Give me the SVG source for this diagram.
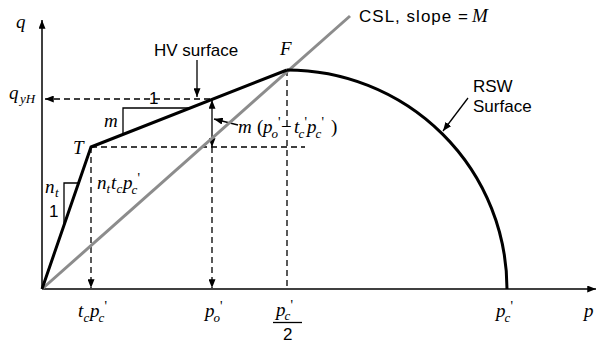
<svg xmlns="http://www.w3.org/2000/svg" width="598" height="344" viewBox="0 0 598 344">
<defs>
<marker id="ah" viewBox="0 0 10 8" refX="10" refY="4" markerWidth="9" markerHeight="7" orient="auto-start-reverse" markerUnits="userSpaceOnUse"><path d="M0,0 L10,4 L0,8 z" fill="#000"/></marker>
<style>
.ax{stroke:#000;stroke-width:1.5;fill:none}
.thick{stroke:#000;stroke-width:3;fill:none;stroke-linejoin:round}
.csl{stroke:#8c8c8c;stroke-width:3;fill:none}
.dash{stroke:#000;stroke-width:1.3;stroke-dasharray:6,4;fill:none}
.thin{stroke:#000;stroke-width:1.3;fill:none}
.m{font-family:"Liberation Serif","Times New Roman",serif;font-style:italic;font-size:19px;fill:#000}
.sb{font-size:13px}
.pr{font-size:14px;font-style:normal}
.up{font-style:normal}
.s{font-family:"Liberation Sans",Arial,sans-serif;font-size:17px;fill:#000}
</style>
</defs>
<rect width="598" height="344" fill="#fff"/>

<g id="axes">
<line class="ax" x1="42" y1="289" x2="42" y2="20" marker-end="url(#ah)"/>
<line class="ax" x1="42" y1="289" x2="596" y2="289" marker-end="url(#ah)"/>
</g>

<g id="connectors">
<line class="dash" x1="210" y1="99" x2="45" y2="99" marker-end="url(#ah)"/>
<line class="dash" x1="91" y1="147" x2="305" y2="147"/>
<line class="dash" x1="91" y1="147" x2="91" y2="288" marker-end="url(#ah)"/>
<line class="dash" x1="212" y1="147" x2="212" y2="288" marker-end="url(#ah)"/>
<line class="dash" x1="287" y1="70" x2="287" y2="289"/>
<line class="thin" x1="212" y1="147" x2="212" y2="100" marker-start="url(#ah)" marker-end="url(#ah)"/>
<line class="thin" x1="197" y1="60" x2="197" y2="97" marker-end="url(#ah)"/>
<line class="thin" x1="238" y1="125" x2="214" y2="119" marker-end="url(#ah)"/>
<line class="thin" x1="468" y1="98" x2="443" y2="131" marker-end="url(#ah)"/>
<polyline class="thin" points="190,108 123,108 123,134"/>
<polyline class="thin" points="78,183 64,183 64,225"/>
</g>

<g id="csl">
<line class="csl" x1="42" y1="289" x2="350" y2="16"/>
</g>
<g id="ncl">
<polyline class="thick" points="42,289 91,147 287,70"/>
</g>
<g id="rsw">
<path class="thick" d="M287,70 A220,219 0 0 1 507,289"/>
</g>

<g id="labels">
<text class="m" x="16" y="28">q</text>
<text class="m" x="9" y="99">q<tspan class="sb" x="20" y="103">yH</tspan></text>
<text class="m" x="280" y="55">F</text>
<text class="m" x="73" y="154">T</text>
<text class="m" x="104" y="127">m</text>
<text class="s" x="149" y="104">1</text>
<text class="s" x="154" y="56">HV surface</text>
<text class="s" x="359" y="22" textLength="109" lengthAdjust="spacing">CSL, slope =</text>
<text class="m" x="472" y="22">M</text>
<text class="s" x="473" y="92">RSW</text>
<text class="s" x="473" y="112">Surface</text>
<text class="m" x="45" y="193">n<tspan class="sb" x="55" y="197">t</tspan></text>
<text class="s" x="49" y="217">1</text>
<text class="m" x="238" y="133">m<tspan class="up" x="257">(</tspan><tspan x="263">p</tspan><tspan class="sb" x="271.5" y="138">o</tspan><tspan class="pr" x="278" y="127">'</tspan><tspan class="up" x="281" y="133">−</tspan><tspan x="294">t</tspan><tspan class="sb" x="298.5" y="138">c</tspan><tspan class="pr" x="304.5" y="127">'</tspan><tspan x="307" y="133">p</tspan><tspan class="sb" x="315.5" y="138">c</tspan><tspan class="pr" x="321.5" y="127">'</tspan><tspan class="up" x="331" y="133">)</tspan></text>
<text class="m" x="97" y="189">n<tspan class="sb" x="106.5" y="193">t</tspan><tspan x="111" y="189">t</tspan><tspan class="sb" x="116.5" y="193">c</tspan><tspan x="123" y="189">p</tspan><tspan class="sb" x="131.5" y="194">c</tspan><tspan class="pr" x="137.5" y="183">'</tspan></text>
<text class="m" x="78" y="317">t<tspan class="sb" x="83.5" y="322">c</tspan><tspan x="90" y="317">p</tspan><tspan class="sb" x="98.5" y="322">c</tspan><tspan class="pr" x="104.5" y="311">'</tspan></text>
<text class="m" x="205" y="317">p<tspan class="sb" x="213.5" y="322">o</tspan><tspan class="pr" x="220" y="311">'</tspan></text>
<text class="m" x="276" y="316">p<tspan class="sb" x="284.5" y="320">c</tspan><tspan class="pr" x="290.5" y="310">'</tspan></text>
<line class="thin" x1="273" y1="322.5" x2="302" y2="322.5"/>
<text class="s" x="283" y="340">2</text>
<text class="m" x="496" y="317">p<tspan class="sb" x="504.5" y="322">c</tspan><tspan class="pr" x="510.5" y="311">'</tspan></text>
<text class="m" x="584" y="317">p</text>
</g>
</svg>
